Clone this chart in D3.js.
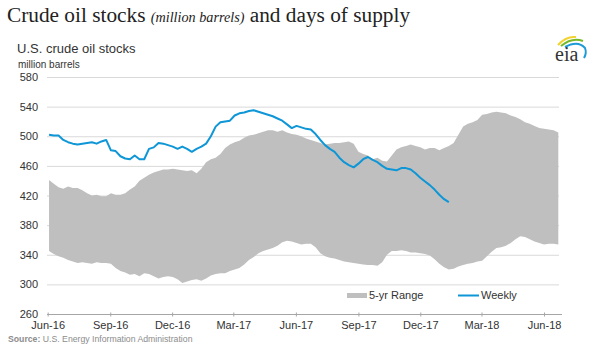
<!DOCTYPE html>
<html>
<head>
<meta charset="utf-8">
<script src="https://cdn.jsdelivr.net/npm/d3@7/dist/d3.min.js"></script>
<style>
  html, body { margin: 0; padding: 0; background: #fff; }
  svg { display: block; }
</style>
</head>
<body>
<svg id="chart" width="600" height="357"></svg>
<script>
// ---- DATA ----
const weekStart = "2016-06-03";          // first weekly observation (Friday)
// 5-year range, upper edge (million barrels), weekly Jun-2016 .. Jun-2018
const rangeHigh = [441,436,431,429,432,430,430,427,423,420,421,419,419,423,421,421,423,428,432,440,
  444,448,451,453,455,455,456,455,454,453,454,450,456,465,469,471,476,484,489,492,
  494,498,501,502,504,506,508,508,506,508,505,503,502,500,497,495,493,491,489,490,
  491,491,492,493,490,479,476,474,469,471,467,466,474,482,485,487,489,487,485,482,
  484,484,481,484,487,491,502,513,517,519,522,529,530,532,533,532,531,528,526,523,
  519,517,514,511,510,509,508,505];
// 5-year range, lower edge
const rangeLow = [345,341,338,336,333,331,329,330,329,328,330,329,329,328,322,318,316,313,314,311,
  315,314,311,308,310,311,310,307,302,304,306,307,305,308,312,314,315,315,318,320,
  322,327,333,337,342,345,347,349,352,357,359,358,356,354,355,355,350,342,338,336,
  335,333,331,330,329,328,327,326,326,325,330,340,345,345,346,345,343,343,342,341,
  339,334,328,323,320,321,324,326,328,329,331,332,338,344,349,350,352,356,361,365,
  364,361,358,356,354,355,355,354];
// Weekly U.S. crude oil stocks, Jun-2016 .. Jan-2018
const weekly = [502,501,501,495,492,490,489,490,491,492,490,493,495,481,480,473,470,469,474,469,
  469,483,485,491,490,488,486,483,486,483,479,483,486,490,500,513,519,520,521,528,
  531,532,534,535,533,531,529,527,524,521,516,511,514,512,510,509,503,495,488,483,
  479,471,465,461,458,463,469,472,468,465,460,456,455,454,457,457,455,450,444,439,
  434,428,421,415,411];
const yTicks = [260,300,340,380,420,460,500,540,580];
const xTickDates = ["2016-06-01","2016-09-01","2016-12-01","2017-03-01","2017-06-01",
  "2017-09-01","2017-12-01","2018-03-01","2018-06-01"];
const legendLabels = ["5-yr Range","Weekly"];

// ---- SETUP ----
const svg = d3.select("#chart");
const parse = d3.utcParse("%Y-%m-%d");
const start = parse(weekStart);
const dateAt = i => d3.utcDay.offset(start, 7 * i);

const bandData = rangeHigh.map((h, i) => ({ d: dateAt(i), hi: h, lo: rangeLow[i] }));
const lineData = weekly.map((v, i) => ({ d: dateAt(i), v }));

const x = d3.scaleUtc()
  .domain([parse("2016-05-31"), parse("2018-06-23")])
  .range([47, 559]);
const y = d3.scaleLinear().domain([260, 580]).range([314, 77]);

const sans = "'Liberation Sans', Arial, sans-serif";
const serif = "'Liberation Serif', 'Times New Roman', serif";

// Title
const title = svg.append("text").attr("x", 7).attr("y", 22)
  .attr("font-family", serif).attr("font-size", 21.3).attr("fill", "#222");
title.append("tspan").text("Crude oil stocks ");
title.append("tspan").attr("font-style", "italic").attr("font-size", 14.2).text("(million barrels)");
title.append("tspan").text(" and days of supply");

svg.append("text").attr("x", 17).attr("y", 53)
  .attr("font-family", sans).attr("font-size", 13).attr("fill", "#333")
  .text("U.S. crude oil stocks");
svg.append("text").attr("x", 18).attr("y", 68)
  .attr("font-family", sans).attr("font-size", 10).attr("fill", "#333")
  .text("million barrels");

// Gridlines
svg.append("g").selectAll("line").data(yTicks.filter(t => t !== 260)).join("line")
  .attr("x1", 47).attr("x2", 559)
  .attr("y1", d => y(d) + 0.5).attr("y2", d => y(d) + 0.5)
  .attr("stroke", "#d9d9d9").attr("stroke-width", 1);

// Y axis labels
const yAxis = d3.axisLeft(y).tickValues(yTicks).tickSize(0).tickPadding(0);
const gy = svg.append("g").attr("transform", "translate(38,0)").call(yAxis);
gy.select(".domain").remove();
gy.selectAll("text").attr("font-family", sans).attr("font-size", 11).attr("fill", "#333");

// Band
const area = d3.area().x(d => x(d.d)).y0(d => y(d.lo)).y1(d => y(d.hi));
svg.append("path").datum(bandData).attr("d", area).attr("fill", "#bfbfbf");

// Weekly line
const line = d3.line().x(d => x(d.d)).y(d => y(d.v));
svg.append("path").datum(lineData).attr("d", line)
  .attr("fill", "none").attr("stroke", "#0e96d6").attr("stroke-width", 2)
  .attr("stroke-linejoin", "round");

// X axis
const xAxis = d3.axisBottom(x).tickValues(xTickDates.map(parse))
  .tickFormat(d3.utcFormat("%b-%y")).tickSize(3).tickSizeOuter(0).tickPadding(4);
const gx = svg.append("g").attr("transform", "translate(0,314.5)").call(xAxis);
gx.select(".domain").attr("stroke", "#a6a6a6").attr("d", "M47,0H562");
gx.selectAll(".tick line").attr("stroke", "#a6a6a6").attr("y1", -2).attr("y2", 2);
gx.selectAll("text").attr("font-family", sans).attr("font-size", 11).attr("fill", "#333");

// Legend
const lg = svg.append("g").attr("font-family", sans).attr("font-size", 11).attr("fill", "#333");
lg.append("rect").attr("x", 347).attr("y", 293).attr("width", 20).attr("height", 5).attr("fill", "#bfbfbf");
lg.append("text").attr("x", 369).attr("y", 299).text(legendLabels[0]);
lg.append("line").attr("x1", 458).attr("x2", 479).attr("y1", 295.5).attr("y2", 295.5)
  .attr("stroke", "#0e96d6").attr("stroke-width", 2);
lg.append("text").attr("x", 481).attr("y", 299).text(legendLabels[1]);

// Source
const src = svg.append("text").attr("x", 8).attr("y", 342)
  .attr("font-family", sans).attr("font-size", 8.7).attr("fill", "#8c8c8c");
src.append("tspan").attr("font-weight", "bold").text("Source:");
src.append("tspan").text(" U.S. Energy Information Administration");

// eia logo
const logo = svg.append("g");
logo.append("path").attr("d", "M558,45 Q566,36 576,37").attr("fill", "none").attr("stroke", "#f2d230").attr("stroke-width", 2);
logo.append("path").attr("d", "M561,46 Q572,37 583,41").attr("fill", "none").attr("stroke", "#76b82a").attr("stroke-width", 2);
logo.append("path").attr("d", "M565,47 Q578,40 585,48 Q587,53 584,58").attr("fill", "none").attr("stroke", "#1c9bd8").attr("stroke-width", 2);
logo.append("text").attr("x", 555).attr("y", 61).attr("font-family", serif).attr("font-size", 20)
  .attr("fill", "#333").text("eia");
</script>
</body>
</html>
